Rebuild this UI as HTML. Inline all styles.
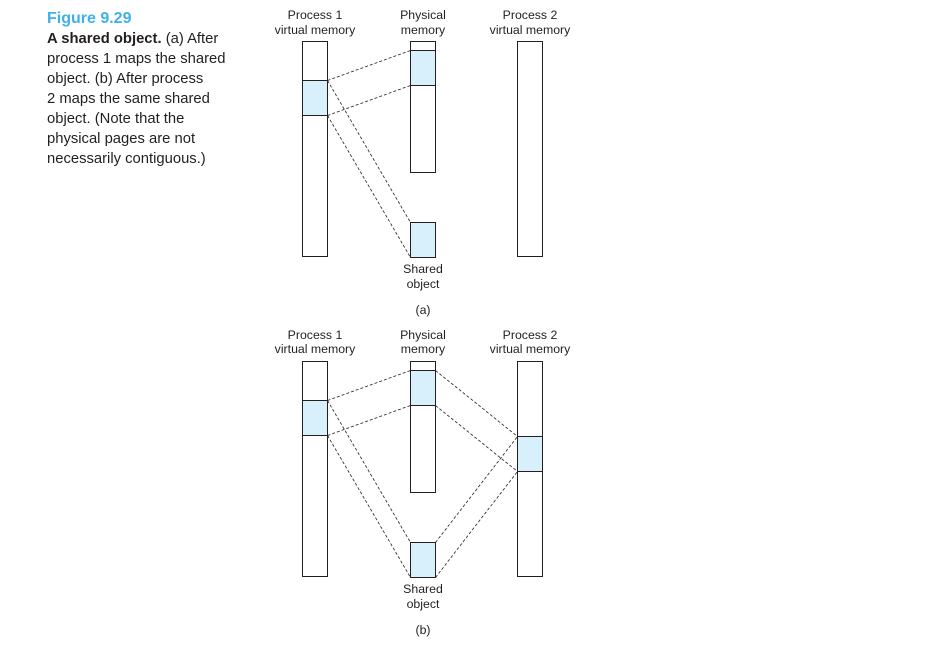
<!DOCTYPE html>
<html><head><meta charset="utf-8"><style>
html,body{margin:0;padding:0;background:#fff;}
svg{display:block;}
</style></head><body>
<svg width="934" height="647" viewBox="0 0 934 647" xmlns="http://www.w3.org/2000/svg">
<g font-family="Liberation Sans, sans-serif">
<text x="47" y="23" font-size="16" font-weight="bold" fill="#3fb0ea">Figure 9.29</text>
<g font-size="14.8" fill="#231f20">
<text x="47" y="43"><tspan font-weight="bold">A shared object.</tspan> (a) After</text>
<text x="47" y="63">process 1 maps the shared</text>
<text x="47" y="83">object. (b) After process</text>
<text x="47" y="103">2 maps the same shared</text>
<text x="47" y="123">object. (Note that the</text>
<text x="47" y="143">physical pages are not</text>
<text x="47" y="163">necessarily contiguous.)</text>
</g>
<g font-size="12.3" fill="#231f20" text-anchor="middle">
<text x="315" y="19">Process 1</text><text x="315" y="34">virtual memory</text>
<text x="423" y="19">Physical</text><text x="423" y="34">memory</text>
<text x="530" y="19">Process 2</text><text x="530" y="34">virtual memory</text>
<text x="423" y="273">Shared</text><text x="423" y="288">object</text>
<text x="423" y="314">(a)</text>
<text x="315" y="339">Process 1</text><text x="315" y="353">virtual memory</text>
<text x="423" y="339">Physical</text><text x="423" y="353">memory</text>
<text x="530" y="339">Process 2</text><text x="530" y="353">virtual memory</text>
<text x="423" y="593">Shared</text><text x="423" y="608">object</text>
<text x="423" y="634">(b)</text>
</g>
</g>
<g stroke="#231f20" stroke-width="1" fill="#fff">
<rect x="302.5" y="41.5" width="25" height="215"/>
<rect x="302.5" y="80.5" width="25" height="35" fill="#d8f0fb"/>
<rect x="410.5" y="41.5" width="25" height="131"/>
<rect x="410.5" y="50.5" width="25" height="35" fill="#d8f0fb"/>
<rect x="410.5" y="222.5" width="25" height="35" fill="#d8f0fb"/>
<rect x="517.5" y="41.5" width="25" height="215"/>
<rect x="302.5" y="361.5" width="25" height="215"/>
<rect x="302.5" y="400.5" width="25" height="35" fill="#d8f0fb"/>
<rect x="410.5" y="361.5" width="25" height="131"/>
<rect x="410.5" y="370.5" width="25" height="35" fill="#d8f0fb"/>
<rect x="410.5" y="542.5" width="25" height="35" fill="#d8f0fb"/>
<rect x="517.5" y="361.5" width="25" height="215"/>
<rect x="517.5" y="436.5" width="25" height="35" fill="#d8f0fb"/>
</g>
<g stroke="#231f20" stroke-width="0.8" stroke-dasharray="3,2" fill="none">
<line x1="327.5" y1="80.5" x2="410.5" y2="50.5"/>
<line x1="327.5" y1="115.5" x2="410.5" y2="85.5"/>
<line x1="327.5" y1="80.5" x2="410.5" y2="222.5"/>
<line x1="327.5" y1="115.5" x2="410.5" y2="257.5"/>
<line x1="327.5" y1="400.5" x2="410.5" y2="370.5"/>
<line x1="327.5" y1="435.5" x2="410.5" y2="405.5"/>
<line x1="327.5" y1="400.5" x2="410.5" y2="542.5"/>
<line x1="327.5" y1="435.5" x2="410.5" y2="577.5"/>
<line x1="435.5" y1="370.5" x2="517.5" y2="436.5"/>
<line x1="435.5" y1="405.5" x2="517.5" y2="471.5"/>
<line x1="435.5" y1="542.5" x2="517.5" y2="436.5"/>
<line x1="435.5" y1="577.5" x2="517.5" y2="471.5"/>
</g>
</svg>
</body></html>
